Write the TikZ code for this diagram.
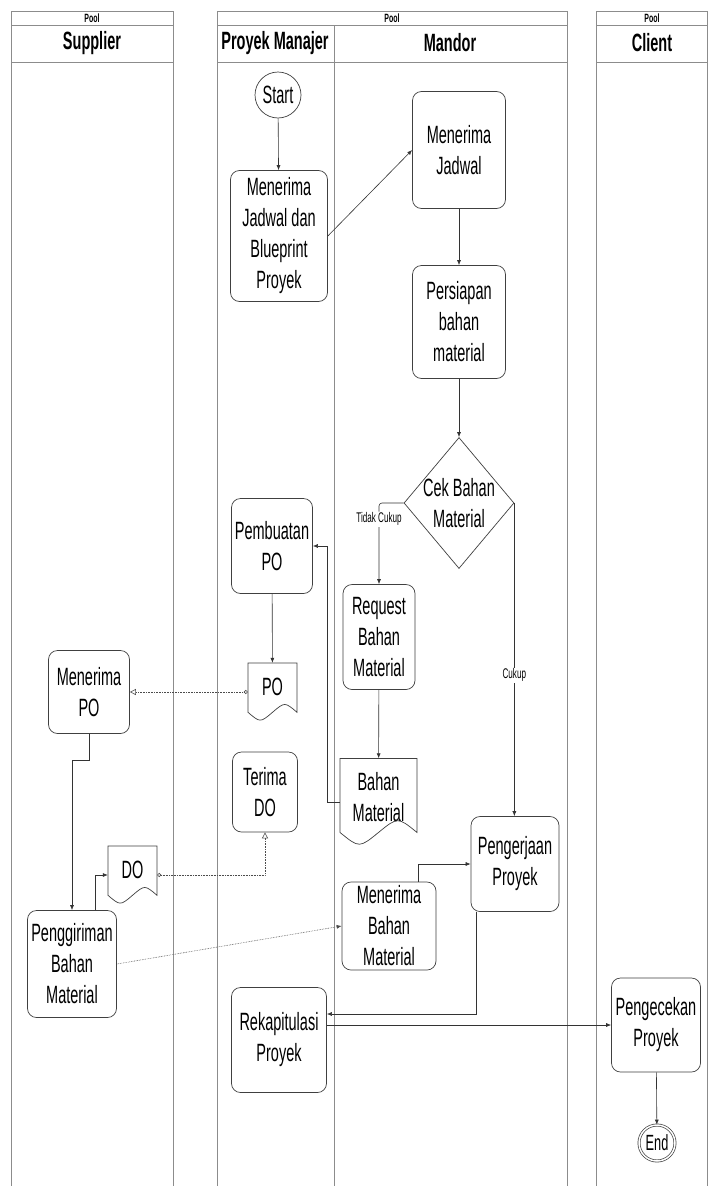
\documentclass[tikz,border=0pt]{standalone}
\usepackage{fontspec}
\setmainfont{Liberation Sans}[FakeStretch=0.58]
\usetikzlibrary{shapes.geometric,arrows.meta}

%Dokumen: nama, posisi, lebar, tinggi, teks
\newcommand{\dokumen}[5]{%
  \node[minimum width=#3, minimum height=#4, inner sep=0pt,
        label={[dok, yshift=5pt]center:#5}] (#1) at #2 {};
  \draw[garis] ([shift={(-#3/2,-#4/2)}]#1.center) -- ([shift={(#3/2,-#4/2)}]#1.center)
    -- ([shift={(#3/2,0.35*#4)}]#1.center)
    .. controls ([shift={(#3/4,0.17*#4)}]#1.center) .. ([shift={(0,0.35*#4)}]#1.center)
    .. controls ([shift={(-#3/4,0.53*#4)}]#1.center) .. ([shift={(-#3/2,0.35*#4)}]#1.center)
    -- cycle;}

\begin{document}
\begin{tikzpicture}[x=1pt, y=-1pt,
    teks/.style = {font=\fontsize{25}{31}\selectfont},
    garis/.style = {draw=black!75, line width=0.7pt},
    kotak/.style = {garis, rounded corners=9pt, align=center, teks, inner sep=1pt},
    dok/.style = {align=center, teks, inner sep=1pt},
    lajur/.style = {draw=black!45, line width=0.8pt},
    kolam/.style = {font=\bfseries\fontsize{12}{14}\selectfont, inner sep=0pt},
    judul/.style = {font=\bfseries\fontsize{25}{28}\selectfont, inner sep=0pt},
    ket/.style = {font=\fontsize{14}{16}\selectfont, fill=white, inner sep=1pt},
    panah/.style = {draw=black!80, line width=0.6pt, -{Latex[length=5pt,width=4pt]}},
    putus/.style = {draw=black!70, line width=0.6pt, densely dotted}]
    \useasboundingbox (0,0) rectangle (714,1186);
    \fill[white] (0,0) rectangle (714,1186);

    %Kolam dan lajur
    \draw[lajur] (11,1186) -- (11,11) -- (173,11) -- (173,1186);
    \draw[lajur] (11,25) -- (173,25) (11,62) -- (173,62);
    \draw[lajur] (217,1186) -- (217,11) -- (567,11) -- (567,1186);
    \draw[lajur] (217,25) -- (567,25) (217,62) -- (567,62) (334,25) -- (334,1186);
    \draw[lajur] (596,1186) -- (596,11) -- (707,11) -- (707,1186);
    \draw[lajur] (596,25) -- (707,25) (596,62) -- (707,62);

    \node[kolam] (pool1) at (92,18) {Pool};
    \node[kolam] (pool2) at (392,18) {Pool};
    \node[kolam] (pool3) at (652,18) {Pool};
    \node[judul] (supplier) at (92,43) {Supplier};
    \node[judul] (manajer) at (275,43) {Proyek Manajer};
    \node[judul] (mandor) at (450,43) {Mandor};
    \node[judul] (client) at (652,43) {Client};

    %Langkah-langkah
    \node[garis, circle, minimum size=46, inner sep=0pt, teks] (start) at (278,95) {Start};
    \node[kotak, minimum width=97, minimum height=131] (blueprint) at (279,236) {Menerima\\Jadwal dan\\Blueprint\\Proyek};
    \node[kotak, minimum width=93, minimum height=117] (jadwal) at (459,150) {Menerima\\Jadwal};
    \node[kotak, minimum width=93, minimum height=113] (siap) at (459,322) {Persiapan\\bahan\\material};
    \node[garis, diamond, minimum width=110, minimum height=131, inner sep=0pt,
          label={[teks, align=center]center:Cek Bahan\\Material}] (cek) at (459,503) {};
    \node[kotak, minimum width=72, minimum height=105] (request) at (379,637) {Request\\Bahan\\Material};
    \dokumen{bahan}{(378.5,802)}{77}{87}{Bahan\\Material}
    \node[kotak, minimum width=81, minimum height=95] (buatpo) at (272,546) {Pembuatan\\PO};
    \dokumen{po}{(272.5,692)}{49}{58}{PO}
    \node[kotak, minimum width=81, minimum height=83] (terimapo) at (89,692) {Menerima\\PO};
    \node[kotak, minimum width=65, minimum height=80] (terimado) at (265,792) {Terima\\DO};
    \dokumen{do}{(132.5,875)}{49}{58}{DO}
    \node[kotak, minimum width=89, minimum height=107] (kirim) at (72,964) {Penggiriman\\Bahan\\Material};
    \node[kotak, minimum width=94, minimum height=88] (terimabahan) at (389,926) {Menerima\\Bahan\\Material};
    \node[kotak, minimum width=88, minimum height=95] (kerja) at (515,864) {Pengerjaan\\Proyek};
    \node[kotak, minimum width=95, minimum height=105] (rekap) at (279,1040) {Rekapitulasi\\Proyek};
    \node[kotak, minimum width=89, minimum height=94] (periksa) at (656,1025) {Pengecekan\\Proyek};
    \node[garis, circle, double, double distance=1.5pt, minimum size=36, inner sep=0pt,
          font=\fontsize{22}{24}\selectfont] (selesai) at (657,1143) {End};

    %Panah
    \draw[panah] (start) -- (blueprint);
    \draw[panah] (blueprint.east) -- (jadwal.west);
    \draw[panah] (jadwal) -- (siap);
    \draw[panah] (siap) -- (cek);
    \draw[panah, rounded corners=3pt] (cek.west) -| (request.north) node[ket, pos=0.6] {Tidak Cukup};
    \draw[panah] (cek.east) -- (cek.east |- kerja.north) node[ket, pos=0.55] {Cukup};
    \draw[panah] (request) -- (bahan);
    \draw[panah] (bahan.west) -- ++(-13,0) |- (buatpo.east);
    \draw[panah] (buatpo) -- (po);
    \draw[putus, {Circle[open,length=4pt]}-{Triangle[open,length=6pt,width=6pt]}] (po.west) -- (terimapo.east);
    \draw[panah] (terimapo.south) -- ++(0,26) -| (kirim.north);
    \draw[panah] ([xshift=23pt]kirim.north) |- (do.west);
    \draw[putus, {Circle[open,length=4pt]}-{Triangle[open,length=6pt,width=6pt]}] (do.east) -| (terimado.south);
    \draw[putus, -{Latex[length=5pt,width=4pt]}] (kirim.east) -- (terimabahan.west);
    \draw[panah] ([xshift=29pt]terimabahan.north) |- (kerja.west);
    \draw[panah] ([xshift=-39pt]kerja.south) |- ([yshift=26pt]rekap.east);
    \draw[panah] (rekap.east |- periksa.west) -- (periksa.west);
    \draw[panah] (periksa) -- (selesai);
\end{tikzpicture}
\end{document}
